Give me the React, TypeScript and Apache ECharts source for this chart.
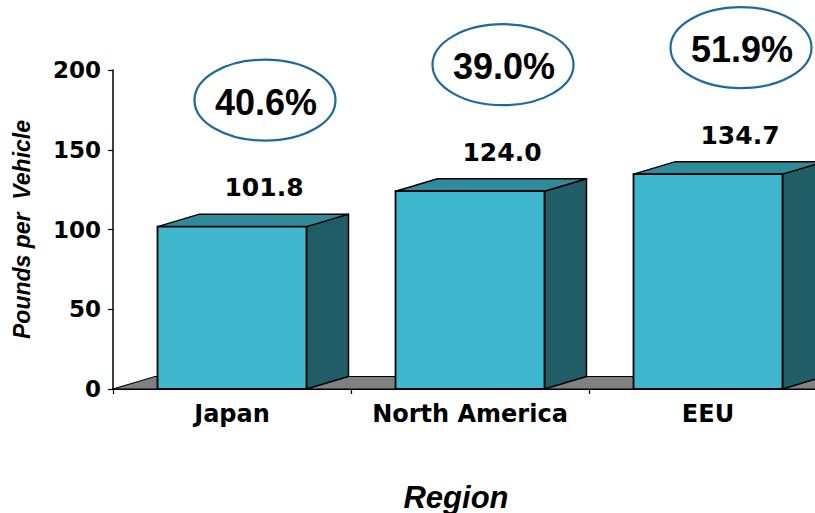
import React, { useEffect, useRef } from "react";
import * as echarts from "echarts";

// Aluminium content per vehicle by region, with growth rate annotations
const regions = ["Japan", "North America", "EEU"];
const poundsPerVehicle = [101.8, 124.0, 134.7];
const growthLabels = ["40.6%", "39.0%", "51.9%"];
const yMin = 0;
const yMax = 200;
const yInterval = 50;

// 3D extrusion of the boxes (pixels)
const DEPTH_X = 42;
const DEPTH_Y = 12.5;

const FRONT = "#3EB6CE";
const TOP = "#2F8B99";
const SIDE = "#215D67";
const FLOOR = "#808080";
const RING = "#1D6A9B";

const NUM_FONT = "DejaVu Sans";
const TXT_FONT = "Liberation Sans";

export default function App() {
  const ref = useRef<HTMLDivElement>(null);

  useEffect(() => {
    if (!ref.current) return;
    const chart = echarts.init(ref.current, null, { renderer: "svg" });

    const barData = poundsPerVehicle.map((v, i) => [i, v]);

    const option: any = {
      animation: false,
      backgroundColor: "#ffffff",
      grid: { left: 113, top: 70, width: 714, height: 319, containLabel: false },
      xAxis: {
        type: "category",
        data: regions,
        axisLine: { show: true, lineStyle: { color: "#000", width: 2 } },
        axisTick: { show: true, interval: 0, length: 5, lineStyle: { color: "#000", width: 1.2 } },
        axisLabel: {
          interval: 0,
          margin: 13,
          color: "#000",
          fontFamily: NUM_FONT,
          fontWeight: "bold",
          fontSize: 24,
        },
        splitLine: { show: false },
      },
      yAxis: {
        type: "value",
        min: yMin,
        max: yMax,
        interval: yInterval,
        name: "Pounds per  Vehicle",
        nameLocation: "middle",
        nameRotate: 90,
        nameGap: 80,
        nameTextStyle: {
          color: "#000",
          fontFamily: TXT_FONT,
          fontWeight: "bold",
          fontStyle: "italic",
          fontSize: 23,
        },
        axisLine: { show: true, lineStyle: { color: "#000", width: 1.5 } },
        axisTick: { show: true, length: 5, lineStyle: { color: "#000", width: 1.2 } },
        axisLabel: {
          margin: 12,
          color: "#000",
          fontFamily: NUM_FONT,
          fontWeight: "bold",
          fontSize: 23,
        },
        splitLine: { show: false },
      },
      graphic: [
        {
          type: "text",
          x: 456,
          y: 497,
          style: {
            text: "Region",
            align: "center",
            verticalAlign: "middle",
            fill: "#000",
            fontFamily: TXT_FONT,
            fontWeight: "bold",
            fontStyle: "italic",
            fontSize: 31,
          },
        },
      ],
      series: [
        {
          // grey floor under the boxes
          type: "custom",
          z: 1,
          silent: true,
          data: [[0, 0]],
          renderItem: (params: any, api: any) => {
            const cs = params.coordSys;
            const yb = cs.y + cs.height;
            const xl = cs.x;
            const xr = cs.x + cs.width;
            return {
              type: "polygon",
              shape: {
                points: [
                  [xl, yb],
                  [xl + DEPTH_X, yb - DEPTH_Y],
                  [xr + DEPTH_X, yb - DEPTH_Y],
                  [xr, yb],
                ],
              },
              style: { fill: FLOOR, stroke: "#000", lineWidth: 1.2 },
            };
          },
        },
        {
          type: "custom",
          z: 3,
          data: barData,
          renderItem: (params: any, api: any) => {
            const idx = api.value(0);
            const val = api.value(1);
            const top = api.coord([idx, val]);
            const base = api.coord([idx, 0]);
            const band = api.size([1, 0])[0];
            const w = band * 0.626;
            const x0 = top[0] - w / 2;
            const x1 = top[0] + w / 2;
            const yT = top[1];
            const yB = base[1];
            const ringX = top[0] + 33;
            const ringY = yT - 126.5;
            return {
              type: "group",
              children: [
                {
                  type: "polygon",
                  shape: {
                    points: [
                      [x1, yT],
                      [x1 + DEPTH_X, yT - DEPTH_Y],
                      [x1 + DEPTH_X, yB - DEPTH_Y],
                      [x1, yB],
                    ],
                  },
                  style: { fill: SIDE, stroke: "#000", lineWidth: 1.5, lineJoin: "round" },
                },
                {
                  type: "polygon",
                  shape: {
                    points: [
                      [x0, yT],
                      [x0 + DEPTH_X, yT - DEPTH_Y],
                      [x1 + DEPTH_X, yT - DEPTH_Y],
                      [x1, yT],
                    ],
                  },
                  style: { fill: TOP, stroke: "#000", lineWidth: 1.5, lineJoin: "round" },
                },
                {
                  type: "rect",
                  shape: { x: x0, y: yT, width: w, height: yB - yT },
                  style: { fill: FRONT, stroke: "#000", lineWidth: 1.8 },
                },
                {
                  type: "text",
                  x: top[0] + 32,
                  y: yT - 39,
                  style: {
                    text: val.toFixed(1),
                    align: "center",
                    verticalAlign: "middle",
                    fill: "#000",
                    fontFamily: NUM_FONT,
                    fontWeight: "bold",
                    fontSize: 25,
                  },
                },
                {
                  type: "ellipse",
                  shape: { cx: ringX, cy: ringY, rx: 70.5, ry: 40.5 },
                  style: { fill: "none", stroke: RING, lineWidth: 2.2 },
                },
                {
                  type: "text",
                  x: ringX + 1,
                  y: ringY + 2,
                  style: {
                    text: growthLabels[idx],
                    align: "center",
                    verticalAlign: "middle",
                    fill: "#000",
                    fontFamily: TXT_FONT,
                    fontWeight: "bold",
                    fontSize: 36,
                  },
                },
              ],
            };
          },
        },
      ],
    };

    chart.setOption(option);
    return () => chart.dispose();
  }, []);

  // The plot runs past the right edge of the 815px frame, so the chart
  // surface is wider than the visible window and clipped by it.
  return (
    <div
      style={{
        position: "fixed",
        left: 0,
        top: 0,
        width: 815,
        height: 513,
        overflow: "hidden",
        background: "#fff",
      }}
    >
      <div ref={ref} style={{ width: 880, height: 513 }} />
    </div>
  );
}
